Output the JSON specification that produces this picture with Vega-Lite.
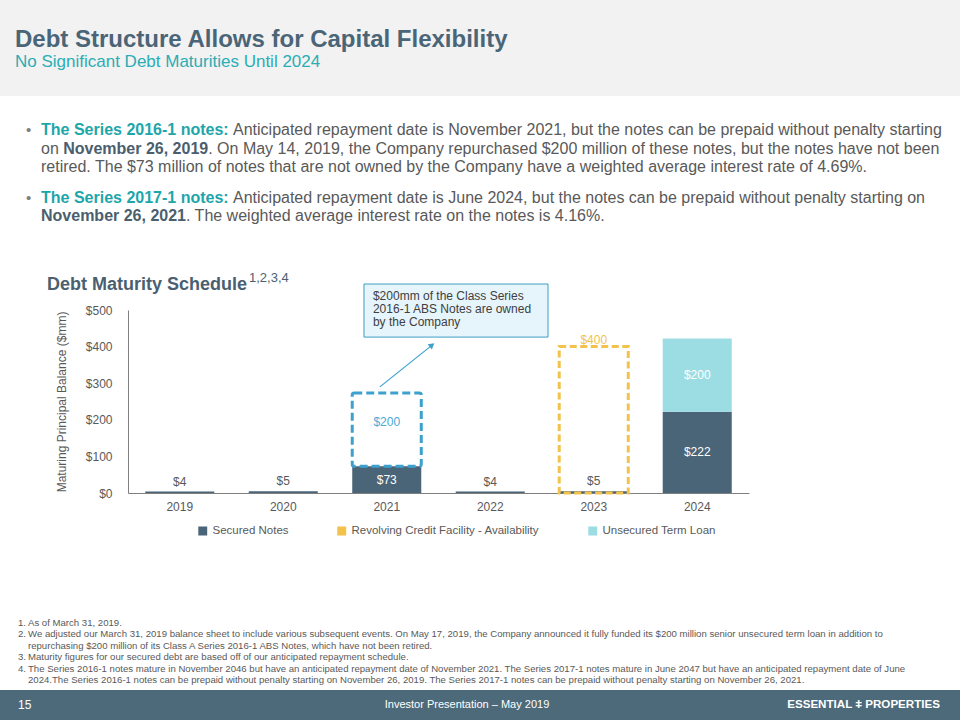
{
  "$schema": "https://vega.github.io/schema/vega-lite/v6.json",
  "padding": 0,
  "background": "white",
  "spacing": 0,
  "bounds": "flush",
  "config": {
    "view": {"stroke": null},
    "font": "Liberation Sans",
    "axisY": {"tickCount": 6}
  },
  "datasets": {
    "header": [
      {"kind": "title", "text": "Debt Structure Allows for Capital Flexibility"},
      {"kind": "subtitle", "text": "No Significant Debt Maturities Until 2024"}
    ],
    "bullets": [
      {"line": 1, "part": "dot", "text": "•"},
      {"line": 4, "part": "dot", "text": "•"},
      {"line": 1, "part": "head", "text": "The Series 2016-1 notes:"},
      {"line": 1, "part": "afterhead", "text": "Anticipated repayment date is November 2021, but the notes can be prepaid without penalty starting"},
      {"line": 2, "part": "lead", "text": "on"},
      {"line": 2, "part": "date_on", "text": "November 26, 2019"},
      {"line": 2, "part": "after_date_on", "text": ". On May 14, 2019, the Company repurchased $200 million of these notes, but the notes have not been"},
      {"line": 3, "part": "lead", "text": "retired. The $73 million of notes that are not owned by the Company have a weighted average interest rate of 4.69%."},
      {"line": 4, "part": "head", "text": "The Series 2017-1 notes:"},
      {"line": 4, "part": "afterhead", "text": "Anticipated repayment date is June 2024, but the notes can be prepaid without penalty starting on"},
      {"line": 5, "part": "date", "text": "November 26, 2021"},
      {"line": 5, "part": "after_date", "text": ". The weighted average interest rate on the notes is 4.16%."}
    ],
    "debt": [
      {"year": "2019", "series": "Secured Notes", "value": 4},
      {"year": "2020", "series": "Secured Notes", "value": 5},
      {"year": "2021", "series": "Secured Notes", "value": 73},
      {"year": "2021", "series": "Owned by Company", "value": 200},
      {"year": "2022", "series": "Secured Notes", "value": 4},
      {"year": "2023", "series": "Secured Notes", "value": 5},
      {"year": "2023", "series": "Revolving Credit Facility - Availability", "value": 400},
      {"year": "2024", "series": "Secured Notes", "value": 222},
      {"year": "2024", "series": "Unsecured Term Loan", "value": 200}
    ],
    "callout": [
      {"note": ["$200mm of the Class Series", "2016-1 ABS Notes are owned", "by the Company"]}
    ],
    "footnotes": [
      {"line": 1, "num": "1.", "text": "As of March 31, 2019."},
      {"line": 2, "num": "2.", "text": "We adjusted our March 31, 2019 balance sheet to include various subsequent events. On May 17, 2019, the Company announced it fully funded its $200 million senior unsecured term loan in addition to"},
      {"line": 3, "num": "", "text": "repurchasing $200 million of its Class A Series 2016-1 ABS Notes, which have not been retired."},
      {"line": 4, "num": "3.", "text": "Maturity figures for our secured debt are based off of our anticipated repayment schedule."},
      {"line": 5, "num": "4.", "text": "The Series 2016-1 notes mature in November 2046 but have an anticipated repayment date of November 2021. The Series 2017-1 notes mature in June 2047 but have an anticipated repayment date of June"},
      {"line": 6, "num": "", "text": "2024.The Series 2016-1 notes can be prepaid without penalty starting on November 26, 2019. The Series 2017-1 notes can be prepaid without penalty starting on November 26, 2021."}
    ],
    "footer": [
      {"kind": "page", "text": "15"},
      {"kind": "center", "text": "Investor Presentation – May 2019"},
      {"kind": "logo", "text": "ESSENTIAL ǂ PROPERTIES"}
    ]
  },
  "vconcat": [
    {
      "width": 960,
      "height": 96,
      "view": {"fill": "#F2F2F2", "stroke": null},
      "data": {"name": "header"},
      "encoding": {"text": {"field": "text"}},
      "layer": [
        {
          "transform": [{"filter": "datum.kind == 'title'"}],
          "mark": {"type": "text", "align": "left", "baseline": "alphabetic", "fontSize": 24, "fontWeight": "bold", "fill": "#4A6577"},
          "encoding": {"x": {"value": 15}, "y": {"value": 47}}
        },
        {
          "transform": [{"filter": "datum.kind == 'subtitle'"}],
          "mark": {"type": "text", "align": "left", "baseline": "alphabetic", "fontSize": 17, "fill": "#2AADB5"},
          "encoding": {"x": {"value": 15}, "y": {"value": 67}}
        }
      ]
    },
    {
      "width": 960,
      "height": 214,
      "data": {"name": "bullets"},
      "encoding": {
        "y": {"field": "line", "type": "quantitative", "scale": {"domain": [1, 2, 3, 4, 5], "range": [39, 58, 76, 107, 125]}, "axis": null},
        "text": {"field": "text"}
      },
      "layer": [
        {
          "transform": [{"filter": "datum.part == 'dot'"}],
          "mark": {"type": "text", "align": "left", "baseline": "alphabetic", "fontSize": 15, "fill": "#7F7F7F"},
          "encoding": {"x": {"value": 26}}
        },
        {
          "transform": [{"filter": "datum.part == 'head'"}],
          "mark": {"type": "text", "align": "left", "baseline": "alphabetic", "fontSize": 16, "fontWeight": "bold", "fill": "#1DA6AA"},
          "encoding": {"x": {"value": 41}}
        },
        {
          "transform": [{"filter": "datum.part == 'afterhead'"}],
          "mark": {"type": "text", "align": "left", "baseline": "alphabetic", "fontSize": 16, "fill": "#595959"},
          "encoding": {"x": {"value": 233}}
        },
        {
          "transform": [{"filter": "datum.part == 'lead'"}],
          "mark": {"type": "text", "align": "left", "baseline": "alphabetic", "fontSize": 16, "fill": "#595959"},
          "encoding": {"x": {"value": 41}}
        },
        {
          "transform": [{"filter": "datum.part == 'date_on'"}],
          "mark": {"type": "text", "align": "left", "baseline": "alphabetic", "fontSize": 16, "fontWeight": "bold", "fill": "#4A5E6E"},
          "encoding": {"x": {"value": 63.2}}
        },
        {
          "transform": [{"filter": "datum.part == 'after_date_on'"}],
          "mark": {"type": "text", "align": "left", "baseline": "alphabetic", "fontSize": 16, "fill": "#595959"},
          "encoding": {"x": {"value": 208.2}}
        },
        {
          "transform": [{"filter": "datum.part == 'date'"}],
          "mark": {"type": "text", "align": "left", "baseline": "alphabetic", "fontSize": 16, "fontWeight": "bold", "fill": "#4A5E6E"},
          "encoding": {"x": {"value": 41}}
        },
        {
          "transform": [{"filter": "datum.part == 'after_date'"}],
          "mark": {"type": "text", "align": "left", "baseline": "alphabetic", "fontSize": 16, "fill": "#595959"},
          "encoding": {"x": {"value": 186}}
        },
        {
          "data": {"values": [{"text": "Debt Maturity Schedule"}]},
          "mark": {"type": "text", "align": "left", "baseline": "alphabetic", "fontSize": 18, "fontWeight": "bold", "fill": "#4A6070"},
          "encoding": {"x": {"value": 47}, "y": {"value": 194}}
        },
        {
          "data": {"values": [{"text": "1,2,3,4"}]},
          "mark": {"type": "text", "align": "left", "baseline": "alphabetic", "fontSize": 13, "fill": "#4A6070"},
          "encoding": {"x": {"value": 249}, "y": {"value": 186}}
        }
      ]
    },
    {
      "width": 960,
      "height": 183,
      "data": {"name": "debt"},
      "encoding": {
        "x": {
          "field": "year",
          "type": "ordinal",
          "scale": {"domain": ["2019", "2020", "2021", "2022", "2023", "2024"], "range": [128, 749], "paddingInner": 0.333, "paddingOuter": 0.1667},
          "axis": {"title": null, "labelAngle": 0, "ticks": false, "domainColor": "#7F7F7F", "labelColor": "#595959", "labelFontSize": 12, "labelPadding": 8}
        }
      },
      "layer": [
        {
          "transform": [{"filter": "datum.series == 'Secured Notes' || datum.series == 'Unsecured Term Loan'"}],
          "mark": {"type": "bar"},
          "encoding": {
            "y": {
              "field": "value",
              "type": "quantitative",
              "stack": "zero",
              "title": "Maturing Principal Balance ($mm)",
              "scale": {"domain": [0, 500], "nice": false},
              "axis": {"values": [0, 100, 200, 300, 400, 500], "format": "$,.0f", "offset": -128, "ticks": false, "grid": false, "domainColor": "#7F7F7F", "labelColor": "#595959", "labelFontSize": 12, "labelPadding": 16, "labelOverlap": false, "titleFontSize": 12, "titleFontWeight": "normal", "titleColor": "#595959", "titlePadding": 17}
            },
            "color": {
              "field": "series",
              "type": "nominal",
              "scale": {
                "domain": ["Secured Notes", "Revolving Credit Facility - Availability", "Unsecured Term Loan"],
                "range": ["#4A6578", "#F2C24B", "#9CDCE3"]
              },
              "legend": {
                "orient": "none",
                "legendX": 197,
                "legendY": 525,
                "direction": "horizontal",
                "title": null,
                "symbolType": "square",
                "symbolSize": 55,
                "labelFontSize": 11.5,
                "labelColor": "#595959",
                "labelLimit": 400,
                "columnPadding": 46,
                "labelOffset": 4
              }
            },
            "order": {"field": "series", "sort": "ascending"}
          }
        },
        {
          "transform": [{"filter": "datum.series == 'Revolving Credit Facility - Availability'"}],
          "mark": {"type": "bar", "filled": false, "strokeWidth": 3, "strokeDash": [7, 3.5]},
          "encoding": {
            "y": {"field": "value", "type": "quantitative", "stack": null, "title": "Maturing Principal Balance ($mm)",
              "axis": {"values": [0, 100, 200, 300, 400, 500], "format": "$,.0f", "offset": -128, "ticks": false, "grid": false, "domainColor": "#7F7F7F", "labelColor": "#595959", "labelFontSize": 12, "labelPadding": 16, "labelOverlap": false, "titleFontSize": 12, "titleFontWeight": "normal", "titleColor": "#595959", "titlePadding": 17}},
            "color": {"field": "series", "type": "nominal", "legend": null}
          }
        },
        {
          "transform": [
            {"filter": "datum.year == '2021'"},
            {"stack": "value", "groupby": ["year"], "sort": [{"field": "series", "order": "descending"}], "as": ["v0", "v1"]},
            {"filter": "datum.series == 'Owned by Company'"}
          ],
          "mark": {"type": "bar", "filled": false, "color": "#3DA1CE", "strokeWidth": 3, "strokeDash": [8, 4], "cornerRadius": 2},
          "encoding": {
            "y": {"field": "v0", "type": "quantitative", "title": "Maturing Principal Balance ($mm)",
              "axis": {"values": [0, 100, 200, 300, 400, 500], "format": "$,.0f", "offset": -128, "ticks": false, "grid": false, "domainColor": "#7F7F7F", "labelColor": "#595959", "labelFontSize": 12, "labelPadding": 16, "labelOverlap": false, "titleFontSize": 12, "titleFontWeight": "normal", "titleColor": "#595959", "titlePadding": 17}},
            "y2": {"field": "v1"}
          }
        },
        {
          "transform": [{"filter": "datum.series == 'Secured Notes' && datum.value < 10"}],
          "mark": {"type": "text", "fontSize": 12, "fill": "#595959", "dy": -10},
          "encoding": {
            "y": {"field": "value", "type": "quantitative", "title": "Maturing Principal Balance ($mm)",
              "axis": {"values": [0, 100, 200, 300, 400, 500], "format": "$,.0f", "offset": -128, "ticks": false, "grid": false, "domainColor": "#7F7F7F", "labelColor": "#595959", "labelFontSize": 12, "labelPadding": 16, "labelOverlap": false, "titleFontSize": 12, "titleFontWeight": "normal", "titleColor": "#595959", "titlePadding": 17}},
            "text": {"field": "value", "type": "quantitative", "format": "$,.0f"}
          }
        },
        {
          "transform": [
            {"filter": "datum.series == 'Secured Notes' || datum.series == 'Unsecured Term Loan'"},
            {"stack": "value", "groupby": ["year"], "sort": [{"field": "series", "order": "ascending"}], "as": ["v0", "v1"]},
            {"filter": "datum.value >= 10"},
            {"fold": ["v0", "v1"], "as": ["edge", "pos"]},
            {"aggregate": [{"op": "mean", "field": "pos", "as": "mid"}, {"op": "max", "field": "value", "as": "amount"}], "groupby": ["year", "series"]}
          ],
          "mark": {"type": "text", "fontSize": 12, "fill": "white"},
          "encoding": {
            "y": {"field": "mid", "type": "quantitative", "title": "Maturing Principal Balance ($mm)",
              "axis": {"values": [0, 100, 200, 300, 400, 500], "format": "$,.0f", "offset": -128, "ticks": false, "grid": false, "domainColor": "#7F7F7F", "labelColor": "#595959", "labelFontSize": 12, "labelPadding": 16, "labelOverlap": false, "titleFontSize": 12, "titleFontWeight": "normal", "titleColor": "#595959", "titlePadding": 17}},
            "text": {"field": "amount", "type": "quantitative", "format": "$,.0f"}
          }
        },
        {
          "transform": [
            {"filter": "datum.year == '2021'"},
            {"stack": "value", "groupby": ["year"], "sort": [{"field": "series", "order": "descending"}], "as": ["v0", "v1"]},
            {"filter": "datum.series == 'Owned by Company'"},
            {"fold": ["v0", "v1"], "as": ["edge", "pos"]},
            {"aggregate": [{"op": "mean", "field": "pos", "as": "mid"}, {"op": "max", "field": "value", "as": "amount"}], "groupby": ["year", "series"]}
          ],
          "mark": {"type": "text", "fontSize": 12, "fill": "#4AAAD6", "dy": -8},
          "encoding": {
            "y": {"field": "mid", "type": "quantitative", "title": "Maturing Principal Balance ($mm)",
              "axis": {"values": [0, 100, 200, 300, 400, 500], "format": "$,.0f", "offset": -128, "ticks": false, "grid": false, "domainColor": "#7F7F7F", "labelColor": "#595959", "labelFontSize": 12, "labelPadding": 16, "labelOverlap": false, "titleFontSize": 12, "titleFontWeight": "normal", "titleColor": "#595959", "titlePadding": 17}},
            "text": {"field": "amount", "type": "quantitative", "format": "$,.0f"}
          }
        },
        {
          "transform": [{"filter": "datum.series == 'Revolving Credit Facility - Availability'"}],
          "mark": {"type": "text", "fontSize": 12, "fill": "#F2C24B", "dy": -7},
          "encoding": {
            "y": {"field": "value", "type": "quantitative", "title": "Maturing Principal Balance ($mm)",
              "axis": {"values": [0, 100, 200, 300, 400, 500], "format": "$,.0f", "offset": -128, "ticks": false, "grid": false, "domainColor": "#7F7F7F", "labelColor": "#595959", "labelFontSize": 12, "labelPadding": 16, "labelOverlap": false, "titleFontSize": 12, "titleFontWeight": "normal", "titleColor": "#595959", "titlePadding": 17}},
            "text": {"field": "value", "type": "quantitative", "format": "$,.0f"}
          }
        },
        {
          "data": {"name": "callout"},
          "mark": {"type": "rect", "fill": "#E6F4FB", "stroke": "#3E9EC4", "strokeWidth": 1},
          "encoding": {
            "x": {"datum": "2021", "type": "ordinal", "bandPosition": 0.17},
            "x2": {"datum": "2022", "bandPosition": 1.337},
            "y": {"datum": 571, "type": "quantitative", "title": "Maturing Principal Balance ($mm)",
              "axis": {"values": [0, 100, 200, 300, 400, 500], "format": "$,.0f", "offset": -128, "ticks": false, "grid": false, "domainColor": "#7F7F7F", "labelColor": "#595959", "labelFontSize": 12, "labelPadding": 16, "labelOverlap": false, "titleFontSize": 12, "titleFontWeight": "normal", "titleColor": "#595959", "titlePadding": 17}},
            "y2": {"datum": 426}
          }
        },
        {
          "data": {"name": "callout"},
          "mark": {"type": "text", "align": "left", "baseline": "top", "fontSize": 12, "lineHeight": 13, "fill": "#404040"},
          "encoding": {
            "x": {"datum": "2021", "type": "ordinal", "bandPosition": 0.3},
            "y": {"datum": 553, "type": "quantitative", "title": "Maturing Principal Balance ($mm)",
              "axis": {"values": [0, 100, 200, 300, 400, 500], "format": "$,.0f", "offset": -128, "ticks": false, "grid": false, "domainColor": "#7F7F7F", "labelColor": "#595959", "labelFontSize": 12, "labelPadding": 16, "labelOverlap": false, "titleFontSize": 12, "titleFontWeight": "normal", "titleColor": "#595959", "titlePadding": 17}},
            "text": {"field": "note"}
          }
        },
        {
          "data": {"name": "callout"},
          "mark": {"type": "rule", "color": "#3DA1CE", "strokeWidth": 1.2},
          "encoding": {
            "x": {"datum": "2021", "type": "ordinal", "bandPosition": 0.4},
            "x2": {"datum": "2021", "bandPosition": 1.156},
            "y": {"datum": 290, "type": "quantitative", "title": "Maturing Principal Balance ($mm)",
              "axis": {"values": [0, 100, 200, 300, 400, 500], "format": "$,.0f", "offset": -128, "ticks": false, "grid": false, "domainColor": "#7F7F7F", "labelColor": "#595959", "labelFontSize": 12, "labelPadding": 16, "labelOverlap": false, "titleFontSize": 12, "titleFontWeight": "normal", "titleColor": "#595959", "titlePadding": 17}},
            "y2": {"datum": 404}
          }
        },
        {
          "data": {"name": "callout"},
          "mark": {"type": "point", "shape": "triangle-up", "angle": 51, "size": 45, "filled": true, "color": "#3DA1CE", "opacity": 1},
          "encoding": {
            "x": {"datum": "2021", "type": "ordinal", "bandPosition": 1.156},
            "y": {"datum": 404, "type": "quantitative", "title": "Maturing Principal Balance ($mm)",
              "axis": {"values": [0, 100, 200, 300, 400, 500], "format": "$,.0f", "offset": -128, "ticks": false, "grid": false, "domainColor": "#7F7F7F", "labelColor": "#595959", "labelFontSize": 12, "labelPadding": 16, "labelOverlap": false, "titleFontSize": 12, "titleFontWeight": "normal", "titleColor": "#595959", "titlePadding": 17}}
          }
        }
      ]
    },
    {
      "width": 960,
      "height": 197,
      "data": {"name": "footnotes"},
      "encoding": {
        "y": {"field": "line", "type": "quantitative", "scale": {"domain": [1, 6], "range": [133, 190]}, "axis": null}
      },
      "layer": [
        {
          "transform": [{"filter": "datum.num != ''"}],
          "mark": {"type": "text", "align": "left", "baseline": "alphabetic", "fontSize": 9.6, "fill": "#595959"},
          "encoding": {"x": {"value": 18}, "text": {"field": "num"}}
        },
        {
          "mark": {"type": "text", "align": "left", "baseline": "alphabetic", "fontSize": 9.6, "fill": "#595959"},
          "encoding": {"x": {"value": 28}, "text": {"field": "text"}}
        }
      ]
    },
    {
      "width": 960,
      "height": 30,
      "view": {"fill": "#4D6A7B", "stroke": null},
      "data": {"name": "footer"},
      "encoding": {"text": {"field": "text"}},
      "layer": [
        {
          "transform": [{"filter": "datum.kind == 'page'"}],
          "mark": {"type": "text", "align": "left", "baseline": "middle", "fontSize": 12, "fill": "white"},
          "encoding": {"x": {"value": 18}, "y": {"value": 15}}
        },
        {
          "transform": [{"filter": "datum.kind == 'center'"}],
          "mark": {"type": "text", "align": "center", "baseline": "middle", "fontSize": 11, "fill": "white"},
          "encoding": {"x": {"value": 467}, "y": {"value": 15}}
        },
        {
          "transform": [{"filter": "datum.kind == 'logo'"}],
          "mark": {"type": "text", "align": "right", "baseline": "middle", "fontSize": 11.6, "fontWeight": "bold", "fill": "white"},
          "encoding": {"x": {"value": 940}, "y": {"value": 15}}
        }
      ]
    }
  ]
}
